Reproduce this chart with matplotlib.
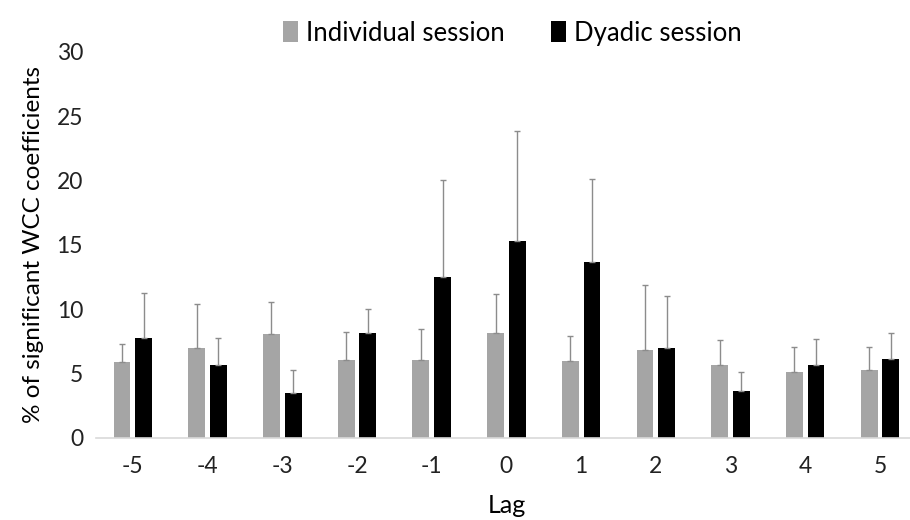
"""
Odsetek istotnych współczynników WCC w zależności od opóźnienia (lag)
"""

import matplotlib
matplotlib.use('Agg')
import matplotlib.pyplot as plt
import numpy as np

lags = ['-5', '-4', '-3', '-2', '-1', '0', '1', '2', '3', '4', '5']

individual_mean = [5.9, 7.0, 8.05, 6.08, 6.08, 8.16, 5.95, 6.83, 5.66, 5.14, 5.25]
individual_err = [1.4, 3.4, 2.55, 2.18, 2.36, 3.06, 1.97, 5.09, 1.92, 1.92, 1.81]

dyadic_mean = [7.8, 5.66, 3.5, 8.18, 12.52, 15.3, 13.71, 7.01, 3.66, 5.66, 6.1]
dyadic_err = [3.5, 2.14, 1.77, 1.87, 7.51, 8.57, 6.39, 4.0, 1.46, 2.03, 2.03]

plt.rcParams['font.family'] = ['Lato', 'DejaVu Sans']

fig = plt.figure(figsize=(9.1, 5.2), dpi=100)
ax = fig.add_axes([0.105, 0.158, 0.903, 0.742])

x = np.arange(len(lags))
width = 0.225
offset = 0.145
err_style = dict(ecolor='#8c8c8c', elinewidth=1.0, capsize=2.5, capthick=1.0)

zeros = [0] * len(lags)
ax.bar(x - offset, individual_mean, width, color='#a5a5a5',
       yerr=[zeros, individual_err], error_kw=err_style,
       label='Individual session', zorder=2)
ax.bar(x + offset, dyadic_mean, width, color='black',
       yerr=[zeros, dyadic_err], error_kw=err_style,
       label='Dyadic session', zorder=2)

ax.set_xlim(-0.5, len(lags) - 0.5)
ax.set_ylim(0, 30)
ax.set_yticks(range(0, 31, 5))
ax.set_xticks(x)
ax.set_xticklabels(lags)

for side in ['top', 'right', 'left']:
    ax.spines[side].set_visible(False)
ax.spines['bottom'].set_color('#d9d9d9')
ax.spines['bottom'].set_linewidth(1.2)
ax.tick_params(axis='both', length=0, labelsize=16.5, colors='#222222')
ax.tick_params(axis='x', pad=13)
ax.tick_params(axis='y', pad=9)

ax.set_xlabel('Lag', fontsize=18, labelpad=12)
ax.set_ylabel('% of significant WCC coefficients', fontsize=17.5, labelpad=9)

fig.legend(loc='upper center', bbox_to_anchor=(0.563, 1.005), ncol=2,
           frameon=False, fontsize=18.5, handlelength=0.6, handleheight=0.9,
           handletextpad=0.3, columnspacing=1.8)

plt.savefig('out.png', dpi=100)
plt.close()
